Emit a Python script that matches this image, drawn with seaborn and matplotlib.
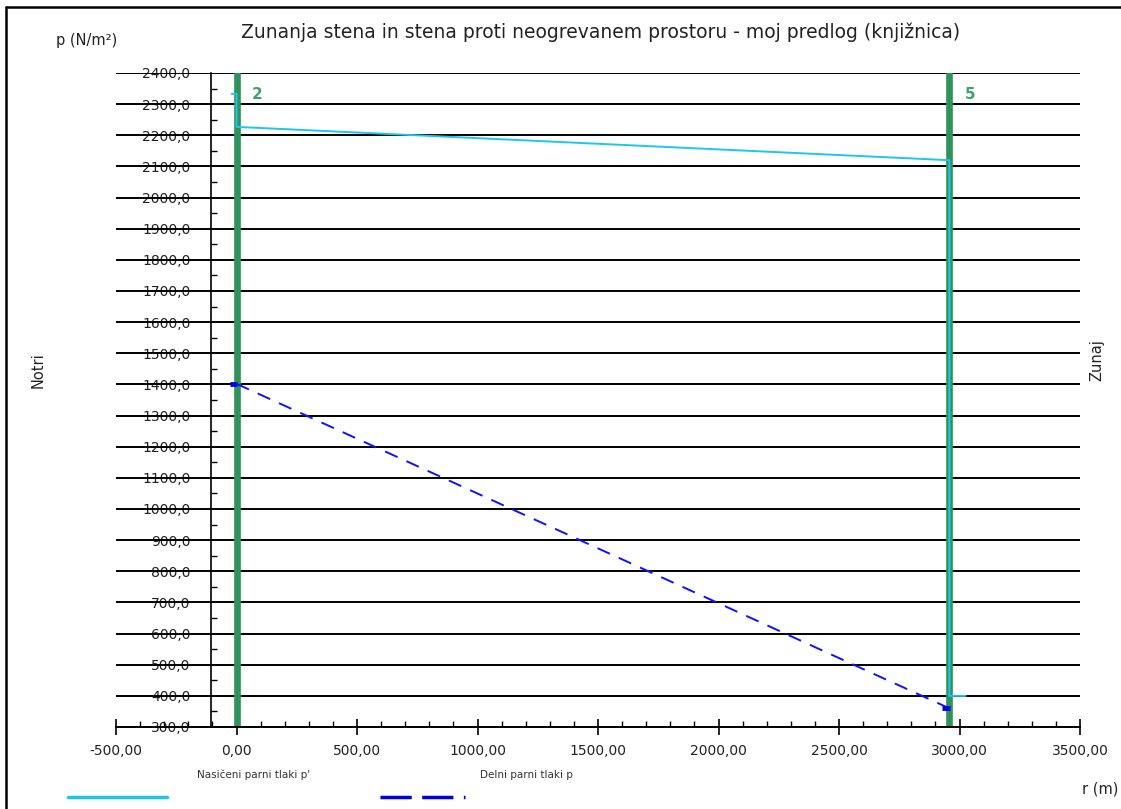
import matplotlib
matplotlib.use("Agg")
import matplotlib.pyplot as plt
import seaborn as sns
import pandas as pd
import numpy as np
from matplotlib.lines import Line2D

# Layer boundaries (r in m) and their numbers
layer_r = [0.0, 2958.0]
layer_labels = ["2", "5"]

# Saturated vapour pressure p' (N/m2)
sat_r = [-20.0, 0.0, 0.0, 2958.0, 2958.0, 3025.0]
sat_p = [2333.0, 2333.0, 2227.0, 2120.0, 400.0, 400.0]

# Partial vapour pressure p (N/m2)
part_r = [0.0, 2958.0]
part_p = [1402.0, 360.0]

x_ticks = [-500, 0, 500, 1000, 1500, 2000, 2500, 3000, 3500]
y_ticks = list(range(300, 2401, 100))

sns.set_theme(style="white")
plt.rcParams["font.family"] = ["DejaVu Sans"]

fig = plt.figure(figsize=(11.21, 8.09), dpi=100)
ax = fig.add_axes([116 / 1121, 1 - 727 / 809, (1080 - 116) / 1121, (727 - 73) / 809])
ax.set_xlim(-500, 3500)
ax.set_ylim(300, 2400)

# horizontal grid
for v in y_ticks:
    ax.axhline(v, color="black", lw=1.4, zorder=1)

green = "#31935c"
for r in layer_r:
    ax.axvline(r, color=green, lw=4.8, zorder=2)

sat_df = pd.DataFrame({"r": sat_r, "p": sat_p, "curve": 0})
sns.lineplot(data=sat_df, x="r", y="p", units="curve", estimator=None, sort=False,
             color="#1cc6f2", lw=1.4, ax=ax, zorder=3)

part_df = pd.DataFrame({"r": part_r, "p": part_p, "curve": 0})
sns.lineplot(data=part_df, x="r", y="p", units="curve", estimator=None, sort=False,
             color="#1010ff", lw=1.4, ax=ax, zorder=3, linestyle=(0, (7, 5)))
# end caps of the partial pressure curve
ax.plot([part_r[0] - 28, part_r[0] + 4], [part_p[0]] * 2, color="#0000e0", lw=3.5, zorder=4,
        solid_capstyle="butt")
ax.plot([part_r[1] - 32, part_r[1] + 4], [part_p[1]] * 2, color="#0000e0", lw=3.5, zorder=4,
        solid_capstyle="butt")

for r, lab in zip(layer_r, layer_labels):
    ax.text(r + 85, 2330, lab, color="#3aa36c", fontsize=11, fontweight="bold",
            ha="center", va="center", zorder=5)

# axes styling
for s in ["top", "right"]:
    ax.spines[s].set_visible(False)
ax.spines["left"].set_position(("data", -104))
ax.spines["left"].set_color("black")
ax.spines["left"].set_linewidth(1.2)
ax.spines["bottom"].set_color("black")
ax.spines["bottom"].set_linewidth(1.4)

ax.set_yticks(y_ticks)
ax.set_yticklabels([f"{v:.1f}".replace(".", ",") for v in y_ticks])
ax.set_yticks(np.arange(350, 2400, 100), minor=True)
ax.tick_params(axis="y", which="major", length=0, pad=15, labelsize=10, labelcolor="#222222")
ax.tick_params(axis="y", which="minor", direction="in", length=4, width=1, color="black", left=True)

ax.set_xticks(x_ticks)
ax.set_xticklabels([f"{v:.2f}".replace(".", ",") for v in x_ticks])
ax.set_xticks(np.arange(-400, 3500, 100), minor=True)
ax.tick_params(axis="x", which="major", direction="inout", length=12, width=1.2,
               color="black", pad=6, labelsize=10, labelcolor="#222222", bottom=True)
ax.tick_params(axis="x", which="minor", direction="in", length=4, width=1,
               color="black", bottom=True)
ax.set_xlabel("")
ax.set_ylabel("")
if ax.get_legend() is not None:
    ax.get_legend().remove()

# texts
fig.text(601 / 1121, 1 - 32 / 809, "Zunanja stena in stena proti neogrevanem prostoru - moj predlog (knjižnica)",
         ha="center", va="center", fontsize=13.5, color="#222222")
fig.text(87 / 1121, 1 - 40 / 809, "p (N/m²)", ha="center", va="center", fontsize=10.5, color="#222222")
fig.text(38 / 1121, 1 - 370 / 809, "Notri", ha="center", va="center", rotation=90,
         fontsize=10.5, color="#222222")
fig.text(1097 / 1121, 1 - 360 / 809, "Zunaj", ha="center", va="center", rotation=90,
         fontsize=10.5, color="#222222")
fig.text(1100 / 1121, 1 - 789 / 809, "r (m)", ha="center", va="center", fontsize=10.5, color="#222222")

# legend
fig.text(254 / 1121, 1 - 775 / 809, "Nasičeni parni tlaki p'", ha="center", va="center",
         fontsize=7.5, color="#333333")
fig.text(526 / 1121, 1 - 775 / 809, "Delni parni tlaki p", ha="center", va="center",
         fontsize=7.5, color="#333333")
fig.add_artist(Line2D([68 / 1121, 167 / 1121], [1 - 797 / 809] * 2, color="#1cc6f2", lw=2.5))
fig.add_artist(Line2D([380 / 1121, 465 / 1121], [1 - 797 / 809] * 2, color="#0000e0", lw=2.5,
                      linestyle=(0, (9, 3))))

# outer frame
fig.add_artist(Line2D([6 / 1121, 1], [1 - 7 / 809] * 2, color="black", lw=1.8))
fig.add_artist(Line2D([6 / 1121] * 2, [0, 1 - 7 / 809], color="black", lw=1.8))

fig.savefig("out.png", dpi=100)
